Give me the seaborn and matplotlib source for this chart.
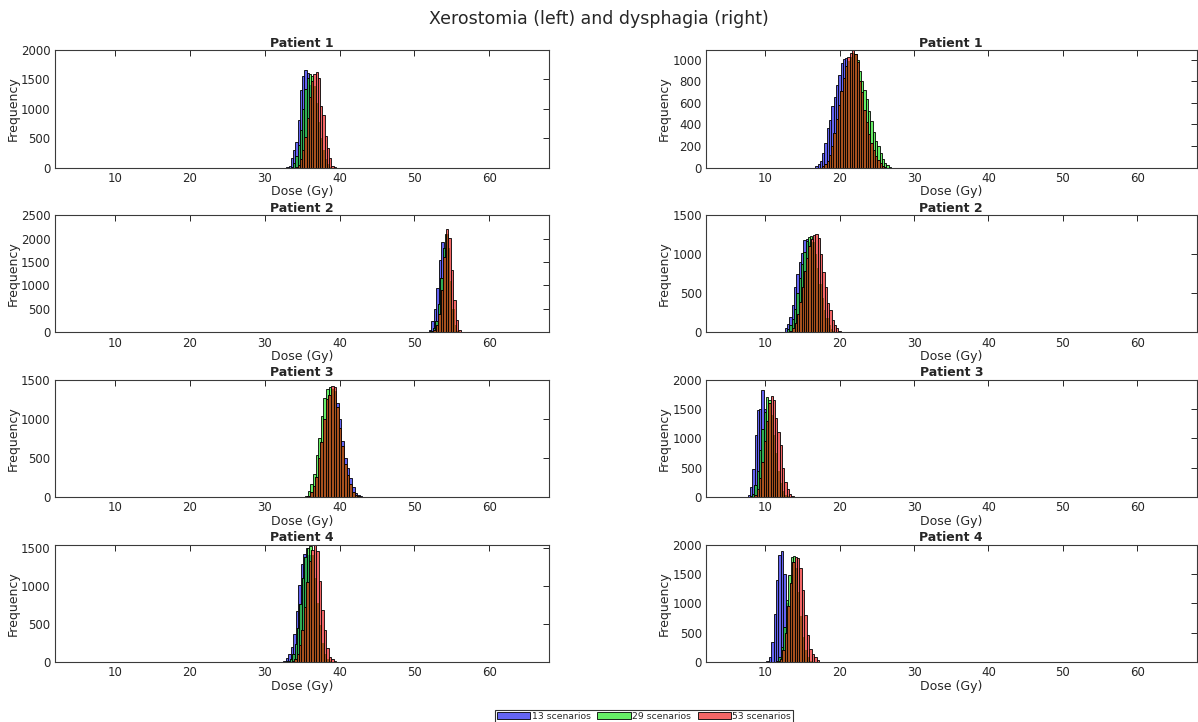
import numpy as np
import pandas as pd
import matplotlib
matplotlib.use("Agg")
import matplotlib.pyplot as plt
from matplotlib.path import Path
from matplotlib.patches import Patch
import seaborn as sns

# ---------------------------------------------------------------------------
# Binned dose samples (counts per bin) for each patient and scenario count
# ---------------------------------------------------------------------------
SCENARIOS = ["13 scenarios", "29 scenarios", "53 scenarios"]
PATIENTS = ["Patient 1", "Patient 2", "Patient 3", "Patient 4"]
X_TICKS = [10, 20, 30, 40, 50, 60]

# Xerostomia
xero_p1_bin = 0.30
xero_p1_start = [32.9, 33.5, 34.1]
xero_p1_13 = [10, 30, 160, 300, 440, 810, 1320, 1560, 1660, 1610, 1400, 1150, 850, 560, 330, 170, 70, 20, 5]
xero_p1_29 = [15, 80, 200, 380, 640, 1000, 1330, 1520, 1600, 1560, 1380, 1100, 780, 500, 290, 140, 60, 15]
xero_p1_53 = [10, 40, 150, 300, 520, 850, 1200, 1480, 1600, 1620, 1520, 1040, 890, 530, 330, 160, 30, 8]

xero_p2_bin = 0.33
xero_p2_start = [51.9, 52.1, 52.2]
xero_p2_13 = [50, 240, 510, 940, 1540, 1920, 1800, 1300, 700, 250, 60, 10]
xero_p2_29 = [30, 100, 250, 600, 1150, 1800, 2100, 1800, 1100, 500, 150, 30]
xero_p2_53 = [20, 60, 150, 400, 900, 1600, 2200, 2020, 1330, 690, 260, 60]

xero_p3_bin = 0.35
xero_p3_start = [35.7, 35.4, 35.7]
xero_p3_13 = [5, 30, 100, 220, 420, 640, 900, 1150, 1300, 1380, 1350, 1200, 1000, 710, 500, 370, 240, 130, 55, 20, 8]
xero_p3_29 = [15, 80, 170, 300, 540, 760, 1040, 1270, 1380, 1400, 1250, 1000, 720, 470, 300, 160, 70, 20]
xero_p3_53 = [10, 60, 140, 260, 500, 700, 1000, 1250, 1300, 1420, 1400, 1150, 880, 650, 420, 280, 160, 70, 25, 8]

xero_p4_bin = 0.33
xero_p4_start = [32.5, 33.0, 33.6]
xero_p4_13 = [10, 50, 110, 200, 370, 670, 1010, 1290, 1410, 1490, 1400, 1150, 850, 560, 320, 150, 60, 20, 5]
xero_p4_29 = [10, 40, 110, 230, 450, 760, 1100, 1370, 1500, 1520, 1400, 1100, 780, 480, 250, 110, 40, 10]
xero_p4_53 = [8, 35, 100, 220, 420, 720, 1050, 1330, 1470, 1540, 1460, 1060, 680, 420, 180, 66, 35, 8]

# Dysphagia
dys_p1_bin = 0.31
dys_p1_start = [16.7, 17.6, 17.6]
dys_p1_13 = [15, 34, 56, 133, 230, 365, 440, 570, 650, 770, 860, 970, 1006, 1015, 990, 900, 800, 680, 540, 420, 300, 200, 120, 70, 30, 10]
dys_p1_29 = [5, 20, 45, 100, 170, 280, 400, 520, 650, 780, 880, 980, 1030, 1060, 1050, 1000, 900, 800, 721, 640, 520, 427, 330, 250, 195, 130, 75, 40, 20, 8]
dys_p1_53 = [10, 30, 60, 120, 200, 320, 450, 580, 710, 830, 940, 1030, 1060, 1087, 1050, 980, 800, 700, 536, 420, 313, 230, 164, 110, 71, 40, 15, 5]

dys_p2_bin = 0.31
dys_p2_start = [12.3, 12.6, 13.0]
dys_p2_13 = [10, 60, 110, 200, 350, 580, 750, 900, 1010, 1180, 1200, 1150, 1050, 900, 720, 540, 380, 250, 150, 80, 40, 15]
dys_p2_29 = [8, 40, 90, 170, 300, 500, 700, 880, 1030, 1170, 1220, 1230, 1150, 1000, 820, 620, 440, 290, 180, 100, 50, 20, 8]
dys_p2_53 = [5, 25, 60, 120, 230, 390, 580, 780, 950, 1100, 1200, 1250, 1253, 1201, 1000, 775, 580, 371, 290, 158, 100, 55, 25, 10, 5]

dys_p3_bin = 0.31
dys_p3_start = [7.6, 7.9, 8.2]
dys_p3_13 = [29, 171, 469, 1057, 1486, 1500, 1817, 1500, 1250, 900, 620, 380, 200, 90, 30, 8]
dys_p3_29 = [10, 60, 200, 450, 800, 1150, 1450, 1700, 1650, 1400, 1050, 750, 450, 240, 110, 40, 10]
dys_p3_53 = [8, 40, 140, 330, 600, 950, 1300, 1600, 1714, 1646, 1343, 1100, 886, 486, 257, 143, 57, 15]

dys_p4_bin = 0.33
dys_p4_start = [10.1, 11.4, 11.6]
dys_p4_13 = [20, 86, 343, 811, 1400, 1829, 1897, 1500, 1000, 560, 260, 100, 30, 8]
dys_p4_29 = [15, 80, 250, 600, 1050, 1486, 1780, 1800, 1600, 1200, 780, 420, 200, 80, 25, 5]
dys_p4_53 = [10, 50, 200, 500, 950, 1350, 1700, 1790, 1771, 1600, 1229, 800, 457, 229, 143, 86, 29, 8]

# y-axis limits and tick steps per panel
xero_ylim = [2000, 2500, 1500, 1540]
xero_ystep = [500, 500, 500, 500]
dys_ylim = [1090, 1500, 2000, 2000]
dys_ystep = [200, 500, 500, 500]

xero_panels = [
    (xero_p1_bin, xero_p1_start, [xero_p1_13, xero_p1_29, xero_p1_53]),
    (xero_p2_bin, xero_p2_start, [xero_p2_13, xero_p2_29, xero_p2_53]),
    (xero_p3_bin, xero_p3_start, [xero_p3_13, xero_p3_29, xero_p3_53]),
    (xero_p4_bin, xero_p4_start, [xero_p4_13, xero_p4_29, xero_p4_53]),
]
dys_panels = [
    (dys_p1_bin, dys_p1_start, [dys_p1_13, dys_p1_29, dys_p1_53]),
    (dys_p2_bin, dys_p2_start, [dys_p2_13, dys_p2_29, dys_p2_53]),
    (dys_p3_bin, dys_p3_start, [dys_p3_13, dys_p3_29, dys_p3_53]),
    (dys_p4_bin, dys_p4_start, [dys_p4_13, dys_p4_29, dys_p4_53]),
]

# ---------------------------------------------------------------------------
# Style
# ---------------------------------------------------------------------------
sns.set_theme(style="white")
TXT = "#262626"
plt.rcParams.update({
    "font.family": ["DejaVu Sans"],
    "text.color": TXT,
    "axes.labelcolor": TXT,
    "xtick.color": TXT,
    "ytick.color": TXT,
    "axes.edgecolor": "#3a3a3a",
    "axes.linewidth": 0.8,
})

COL_13 = "#6464F2"
COL_29 = "#66EE66"
COL_29_OVER = "#2FAE55"     # 29-scenario bars lying over 13-scenario bars
COL_53 = "#F26666"
COL_53_OVER = "#A8501E"     # 53-scenario bars lying over the other runs


def hist_bars(ax, start, width, counts, color):
    """Draw pre-binned counts with seaborn and return the new bar patches."""
    counts = np.asarray(counts, dtype=float)
    edges = start + width * np.arange(len(counts) + 1)
    df = pd.DataFrame({"dose": edges[:-1] + width / 2, "n": counts})
    n0 = len(ax.patches)
    sns.histplot(data=df, x="dose", weights="n", bins=edges.tolist(), stat="count",
                 element="bars", color=color, alpha=1.0, ax=ax,
                 edgecolor="black", linewidth=0.6)
    new = ax.patches[n0:]
    for p in new:
        p.set_facecolor(color)
        p.set_edgecolor("black")
        p.set_linewidth(0.6)
    return new


def envelope_path(patch_groups):
    """Outline of the upper envelope of several groups of bars (data coords)."""
    rects = []
    for group in patch_groups:
        for p in group:
            rects.append((p.get_x(), p.get_x() + p.get_width(), p.get_height()))
    xs = sorted({r[0] for r in rects} | {r[1] for r in rects})
    verts = [(xs[0], 0.0)]
    for a, b in zip(xs[:-1], xs[1:]):
        mid = 0.5 * (a + b)
        h = max([r[2] for r in rects if r[0] <= mid <= r[1]] + [0.0])
        verts += [(a, h), (b, h)]
    verts += [(xs[-1], 0.0), (xs[0], 0.0)]
    codes = [Path.MOVETO] + [Path.LINETO] * (len(verts) - 2) + [Path.CLOSEPOLY]
    return Path(verts, codes)


def draw_panel(ax, panel, ymax, ystep, title):
    width, starts, series = panel
    b13 = hist_bars(ax, starts[0], width, series[0], COL_13)
    b29 = hist_bars(ax, starts[1], width, series[1], COL_29)
    over29 = hist_bars(ax, starts[1], width, series[1], COL_29_OVER)
    clip13 = envelope_path([b13])
    for p in over29:
        p.set_clip_path(clip13, ax.transData)
    hist_bars(ax, starts[2], width, series[2], COL_53)
    over53 = hist_bars(ax, starts[2], width, series[2], COL_53_OVER)
    clip_other = envelope_path([b13, b29])
    for p in over53:
        p.set_clip_path(clip_other, ax.transData)

    ax.set_xlim(2, 68)
    ax.set_ylim(0, ymax)
    ax.set_xticks(X_TICKS)
    ax.set_yticks(np.arange(0, ymax + 1, ystep))
    ax.tick_params(axis="both", direction="in", length=4, width=0.7,
                   labelsize=8.5, top=True, right=True, pad=3)
    for s in ax.spines.values():
        s.set_visible(True)
    ax.set_xlabel("Dose (Gy)", fontsize=9, labelpad=0.5)
    ax.set_ylabel("Frequency", fontsize=9, labelpad=1)
    ax.set_title(title, fontsize=9, fontweight="bold", pad=2.5)


fig = plt.figure(figsize=(11.98, 7.22), dpi=100)
row_bottoms = [0.768, 0.5395, 0.3116, 0.0831]
row_height = 0.1627
left_x, left_w = 0.0457, 0.4129
right_x, right_w = 0.5893, 0.4095

for i in range(4):
    axl = fig.add_axes([left_x, row_bottoms[i], left_w, row_height])
    draw_panel(axl, xero_panels[i], xero_ylim[i], xero_ystep[i], PATIENTS[i])
    axr = fig.add_axes([right_x, row_bottoms[i], right_w, row_height])
    draw_panel(axr, dys_panels[i], dys_ylim[i], dys_ystep[i], PATIENTS[i])

fig.suptitle("Xerostomia (left) and dysphagia (right)", fontsize=12.5, y=0.986)

handles = [Patch(facecolor=c, edgecolor="black", linewidth=0.6, label=l)
           for c, l in zip([COL_13, COL_29, COL_53], SCENARIOS)]
leg = fig.legend(handles=handles, loc="lower center", bbox_to_anchor=(0.5376, -0.004),
                 ncol=3, fontsize=6.7, frameon=True, fancybox=False,
                 handlelength=3.6, handleheight=0.8, handletextpad=0.15,
                 columnspacing=0.7, borderpad=0.2, borderaxespad=0.2)
leg.get_frame().set_edgecolor("black")
leg.get_frame().set_linewidth(0.8)

fig.savefig("out.png", dpi=100)
